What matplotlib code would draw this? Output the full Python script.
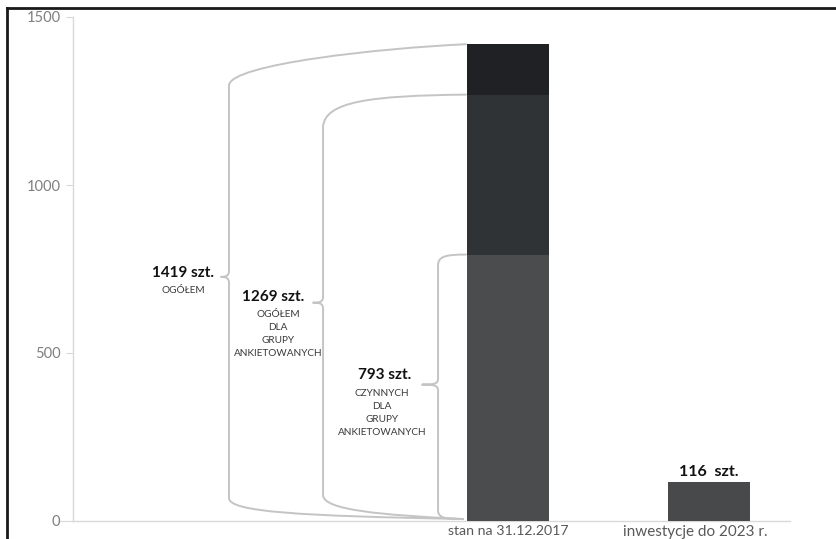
import matplotlib
matplotlib.use("Agg")
import matplotlib.pyplot as plt
from matplotlib.path import Path
from matplotlib.patches import PathPatch
from matplotlib.lines import Line2D

# ---------------- data ----------------
categories = ["stan na 31.12.2017", "inwestycje do 2023 r."]
stan_totals = [793, 1269, 1419]          # cumulative levels of the stacked bar
inwestycje = [116]
brace_subtitles = ["CZYNNYCH\nDLA\nGRUPY\nANKIETOWANYCH",
                   "OGÓŁEM\nDLA\nGRUPY\nANKIETOWANYCH",
                   "OGÓŁEM"]
yticks = [0, 500, 1000, 1500]

# ---------------- style / layout ----------------
W, H = 837, 539
FONT = "Lato"
seg_colors = ["#4b4c4e", "#303336", "#1f2124"]
bar2_color = "#48494b"
brace_color = "#c4c4c4"
xmin, xmax = -2.164, 1.403
ax_left_px, ax_right_px, ax_top_px, ax_bot_px = 73, 790, 17, 521
bar_w = 0.408

fig = plt.figure(figsize=(W / 100, H / 100), dpi=100)
ax = fig.add_axes([ax_left_px / W, (H - ax_bot_px) / H,
                   (ax_right_px - ax_left_px) / W, (ax_bot_px - ax_top_px) / H])
ax.set_xlim(xmin, xmax)
ax.set_ylim(0, 1500)

PX_X = (ax_right_px - ax_left_px) / (xmax - xmin)
PX_Y = (ax_bot_px - ax_top_px) / 1500.0
def dx(p): return p / PX_X
def dy(p): return p / PX_Y

# stacked bar
bottoms = [0] + stan_totals[:-1]
for i, (b, t) in enumerate(zip(bottoms, stan_totals)):
    ax.bar(0, t - b, bottom=b, width=bar_w, color=seg_colors[i], linewidth=0, zorder=3)
ax.bar(1, inwestycje[0], width=bar_w, color=bar2_color, linewidth=0, zorder=3)

ax.annotate(f"{inwestycje[0]}  szt.", xy=(1, inwestycje[0]), xytext=(0, 3),
            textcoords="offset pixels", ha="center", va="bottom",
            fontsize=11.5, fontweight="bold", family=FONT, color="#111111")

# braces
bar_left = -bar_w / 2
brace_specs = [
    # value, x of vertical, tip length px, top ctrl (c1x,c1y,c2x,c2y,c3y), bottom ctrl (b0y,b1y,b2x,b2y), text offsets
    (stan_totals[2], -1.388, 8, (150, 4, 2, 20, 41), (23, 9, 71, 5), (-38, 4), (-38, -14), brace_subtitles[2]),
    (stan_totals[1], -0.920, 10, (47, 1, 2, 7, 32), (26, 11, 57, 6), (-40, 6), (-35, -12), brace_subtitles[1]),
    (stan_totals[0], -0.348, 16, (7, 0, 0, 2, 11), (11, 3, 7, 2), (-37, 10), (-40, -9), brace_subtitles[0]),
]
for value, xv, tl, tc, bc, off_b, off_s, sub in brace_specs:
    xe = bar_left - dx(1)
    ty = value * 0.512
    c1x, c1y, c2x, c2y, c3y = tc
    b0y, b1y, b2x, b2y = bc
    verts = [
        (xe, value),
        (xv + dx(c1x), value - dy(c1y)), (xv + dx(c2x), value - dy(c2y)), (xv, value - dy(c3y)),
        (xv, ty + dy(6)),
        (xv, ty + dy(1)), (xv - dx(3), ty), (xv - dx(tl), ty),
        (xv - dx(3), ty), (xv, ty - dy(1)), (xv, ty - dy(6)),
        (xv, dy(b0y)),
        (xv, dy(b1y)), (xv + dx(b2x), dy(b2y)), (bar_left - dx(4), dy(2)),
    ]
    codes = [Path.MOVETO,
             Path.CURVE4, Path.CURVE4, Path.CURVE4,
             Path.LINETO,
             Path.CURVE4, Path.CURVE4, Path.CURVE4,
             Path.CURVE4, Path.CURVE4, Path.CURVE4,
             Path.LINETO,
             Path.CURVE4, Path.CURVE4, Path.CURVE4]
    ax.add_patch(PathPatch(Path(verts, codes), facecolor="none", edgecolor=brace_color,
                           lw=1.4, zorder=2, capstyle="round", joinstyle="round"))
    tip = (xv - dx(tl), ty)
    ax.annotate(f"{value} szt.", xy=tip, xytext=off_b, textcoords="offset pixels",
                ha="center", va="center", fontsize=11, fontweight="bold",
                family=FONT, color="#111111")
    ax.annotate(sub, xy=tip, xytext=(off_s[0], off_s[1] + 5), textcoords="offset pixels",
                ha="center", va="top", fontsize=7.2, family=FONT, color="#3a3a3a",
                linespacing=1.6, multialignment="center")

# axes styling
for s in ["top", "right"]:
    ax.spines[s].set_visible(False)
ax.spines["left"].set_color("#d9d9d9")
ax.spines["bottom"].set_color("#d9d9d9")
ax.spines["left"].set_linewidth(1)
ax.spines["bottom"].set_linewidth(1)
ax.set_yticks(yticks)
ax.set_yticklabels([str(t) for t in yticks], family=FONT, fontsize=10.5, color="#7f7f7f")
ax.tick_params(axis="y", length=5, color="#d9d9d9", pad=4)
ax.set_xticks([0, 1])
ax.set_xticklabels([])
ax.tick_params(axis="x", length=0)
ax.yaxis.get_major_ticks()[0].tick1line.set_markersize(10)

# category labels
cat_style = [(0, 10.2), (-14, 11.0)]   # (x shift px, font size)
for i, (lab, (sh, fs)) in enumerate(zip(categories, cat_style)):
    ax.annotate(lab, xy=(i, 0), xycoords=("data", "axes fraction"), xytext=(sh, -4),
                textcoords="offset pixels", ha="center", va="top",
                fontsize=fs, family=FONT, color="#595959", annotation_clip=False)

# outer frame (left and top edges of the clipped picture)
fig.add_artist(Line2D([7.5 / W, 7.5 / W], [0, 1 - 7.5 / H], transform=fig.transFigure,
                      color="#1a1a1a", lw=2))
fig.add_artist(Line2D([7.5 / W, 1], [1 - 7.5 / H, 1 - 7.5 / H], transform=fig.transFigure,
                      color="#1a1a1a", lw=2))

fig.savefig("out.png", dpi=100, facecolor="white")
